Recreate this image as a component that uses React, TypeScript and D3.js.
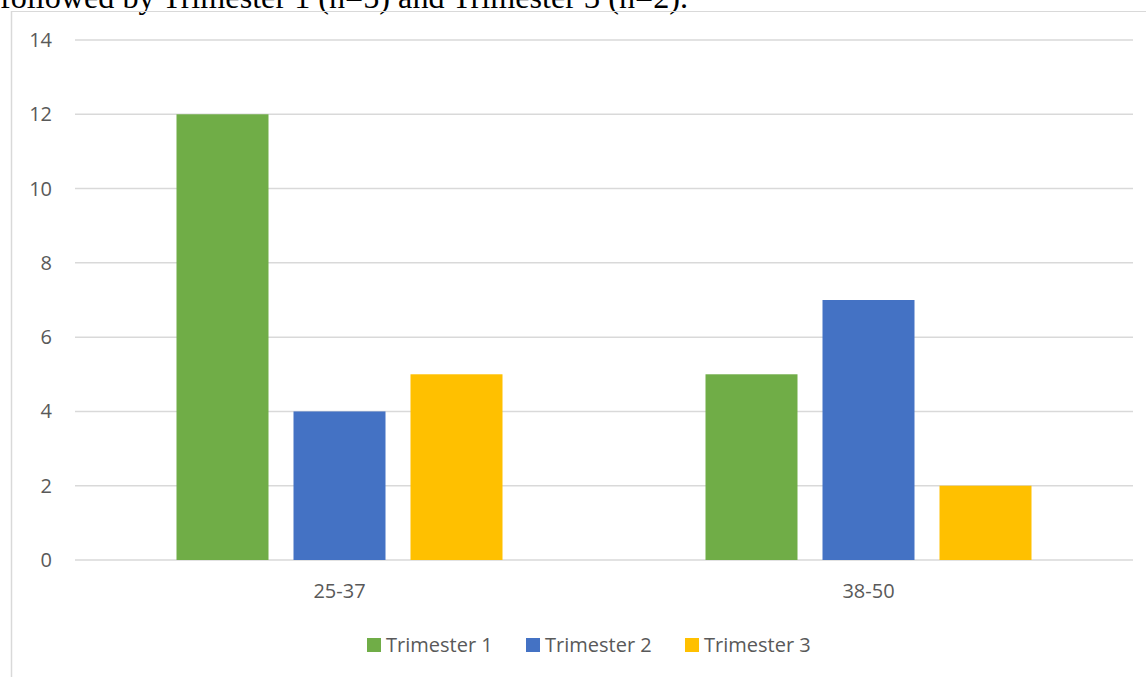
import React from "react";
import * as d3 from "d3";

const categories = ["25-37", "38-50"];
const seriesNames = ["Trimester 1", "Trimester 2", "Trimester 3"];
const trimester1 = [12, 5];
const trimester2 = [4, 7];
const trimester3 = [5, 2];
const seriesValues = [trimester1, trimester2, trimester3];
const colors = ["#70AD47", "#4472C4", "#FFC000"];
const yTicks = [0, 2, 4, 6, 8, 10, 12, 14];
const caption = "followed by Trimester 1 (n=5) and Trimester 3 (n=2).";

export default function App() {
  const W = 1146, H = 677;
  const plotL = 75, plotR = 1133, plotT = 40, plotB = 560;
  const y = d3.scaleLinear().domain([0, 14]).range([plotB, plotT]);
  const x0 = d3.scaleBand().domain(categories).range([plotL, plotR]).paddingInner(0).paddingOuter(0);
  const groupW = 326;
  const x1 = d3.scaleBand().domain(seriesNames).range([0, groupW]).paddingInner(25 / 117).paddingOuter(0);
  const font = "'Open Sans', sans-serif";
  const fs = 20;
  const legendX = [367, 526, 685];
  return (
    <svg width={W} height={H} style={{ position: "absolute", left: 0, top: 0, background: "#fff" }}>
      <text x={0} y={8} fontFamily="'Liberation Serif', 'Times New Roman', serif" fontSize={32.2} fill="#000">{caption}</text>
      <line x1={11} x2={W + 5} y1={11.5} y2={11.5} stroke="#d9d9d9" strokeWidth={1.2} />
      <line x1={11.5} x2={11.5} y1={11} y2={H + 5} stroke="#d9d9d9" strokeWidth={1.5} />
      {yTicks.map((t) => (
        <g key={t}>
          <line x1={plotL} x2={plotR} y1={y(t)} y2={y(t)} stroke="#d9d9d9" strokeWidth={1.5} />
          <text x={52} y={y(t) + 7} textAnchor="end" fontFamily={font} fontSize={fs} fill="#595959">{t}</text>
        </g>
      ))}
      {categories.map((c, ci) => {
        const gx = (x0(c) as number) + (x0.bandwidth() - groupW) / 2;
        return (
          <g key={c}>
            {seriesNames.map((s, si) => (
              <rect key={s} x={gx + (x1(s) as number)} width={x1.bandwidth()} y={y(seriesValues[si][ci])}
                height={y(0) - y(seriesValues[si][ci])} fill={colors[si]} />
            ))}
            <text x={(x0(c) as number) + x0.bandwidth() / 2} y={597.5} textAnchor="middle" fontFamily={font} fontSize={fs} fill="#595959">{c}</text>
          </g>
        );
      })}
      {seriesNames.map((s, si) => (
        <g key={s}>
          <rect x={legendX[si]} y={638} width={14} height={14} fill={colors[si]} />
          <text x={legendX[si] + 19} y={652} fontFamily={font} fontSize={fs} fill="#595959">{s}</text>
        </g>
      ))}
    </svg>
  );
}
